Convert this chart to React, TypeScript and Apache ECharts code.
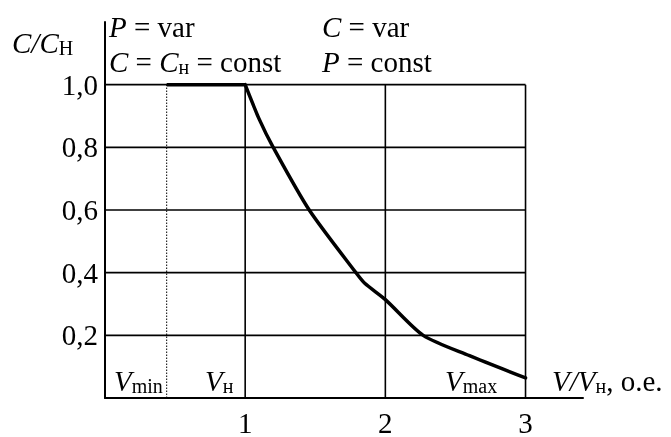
import React, { useEffect, useRef } from "react";
import * as echarts from "echarts";

// ---- data ----
const xTicks = [1, 2, 3];
const yTicks = [0.2, 0.4, 0.6, 0.8, 1.0];
const vMin = 0.44;
const flatX = [0.44, 1.0];
const flatY = [1.0, 1.0];
const curveX = [1.0, 1.1, 1.2, 1.457, 1.79, 1.853, 2.0, 2.27, 2.6, 3.0];
const curveY = [1.0, 0.89, 0.8, 0.6, 0.4, 0.366, 0.314, 0.2, 0.135, 0.064];

const FONT = "'Liberation Serif', 'Times New Roman', serif";
const MAIN = 29;
const SUB = 20;

const rich = {
  i: { fontStyle: "italic", fontSize: MAIN, fontFamily: FONT, fill: "#000" },
  n: { fontSize: MAIN, fontFamily: FONT, fill: "#000" },
  s: { fontSize: SUB, fontFamily: FONT, fill: "#000", verticalAlign: "bottom" as const },
};

function txt(x: number, y: number, text: string) {
  return {
    type: "text",
    x,
    y,
    style: {
      text,
      rich,
      fontSize: MAIN,
      fontFamily: FONT,
      fill: "#000",
      align: "left",
      verticalAlign: "middle",
    },
  };
}

export default function App() {
  const ref = useRef<HTMLDivElement>(null);
  useEffect(() => {
    if (!ref.current) return;
    const chart = echarts.init(ref.current, null, { renderer: "svg" });
    const series: any[] = [];
    // horizontal grid lines
    yTicks.forEach((y) => {
      series.push({
        type: "line",
        data: [
          [0, y],
          [xTicks[xTicks.length - 1], y],
        ],
        symbol: "none",
        lineStyle: { color: "#000", width: 1.6 },
        silent: true,
      });
    });
    // vertical grid lines
    xTicks.forEach((x) => {
      series.push({
        type: "line",
        data: [
          [x, 0],
          [x, yTicks[yTicks.length - 1]],
        ],
        symbol: "none",
        lineStyle: { color: "#000", width: 1.6 },
        silent: true,
      });
    });
    // Vmin dotted line
    series.push({
      type: "line",
      data: [
        [vMin, 0],
        [vMin, 1.0],
      ],
      symbol: "none",
      lineStyle: { color: "#000", width: 1, type: [1.5, 1.5] },
      silent: true,
    });
    // flat part
    series.push({
      type: "line",
      data: flatX.map((x, i) => [x, flatY[i]]),
      symbol: "none",
      lineStyle: { color: "#000", width: 3.5 },
      z: 5,
    });
    // falling curve
    series.push({
      type: "line",
      data: curveX.map((x, i) => [x, curveY[i]]),
      symbol: "none",
      smooth: 0.25,
      lineStyle: { color: "#000", width: 3.5, cap: "round" },
      z: 5,
    });

    chart.setOption({
      animation: false,
      grid: { left: 105, top: 22, right: 88, bottom: 34, containLabel: false },
      xAxis: {
        type: "value",
        min: 0,
        max: 3.41,
        interval: 1,
        axisLine: { show: true, onZero: false, lineStyle: { color: "#000", width: 2 } },
        axisTick: { show: false },
        splitLine: { show: false },
        axisLabel: {
          margin: 10,
          fontSize: MAIN,
          fontFamily: FONT,
          color: "#000",
          formatter: (v: number) => (xTicks.indexOf(Math.round(v * 100) / 100) >= 0 ? String(v) : ""),
        },
      },
      yAxis: {
        type: "value",
        min: 0,
        max: 1.2,
        interval: 0.2,
        axisLine: { show: true, onZero: false, lineStyle: { color: "#000", width: 2 } },
        axisTick: { show: false },
        splitLine: { show: false },
        axisLabel: {
          margin: 7,
          fontSize: MAIN,
          fontFamily: FONT,
          color: "#000",
          formatter: (v: number) => {
            const r = Math.round(v * 10) / 10;
            return yTicks.some((t) => Math.abs(t - r) < 1e-6) && Math.abs(v - r) < 1e-6
              ? r.toFixed(1).replace(".", ",")
              : "";
          },
        },
      },
      graphic: [
        txt(12, 43, "{i|C/C}{s|Н}"),
        txt(109, 27, "{i|P} = var"),
        txt(109, 62, "{i|C} = {i|C}{s|н} = const"),
        txt(322, 27, "{i|C} = var"),
        txt(322, 62, "{i|P} = const"),
        txt(114, 381, "{i|V}{s|min}"),
        txt(205, 381, "{i|V}{s|н}"),
        txt(445, 381, "{i|V}{s|max}"),
        txt(552, 381, "{i|V/V}{s|н}, o.e."),
      ],
      series,
    });
    return () => chart.dispose();
  }, []);
  return (
    <div
      ref={ref}
      style={{ position: "fixed", left: 0, top: 0, width: 671, height: 437 }}
    />
  );
}
